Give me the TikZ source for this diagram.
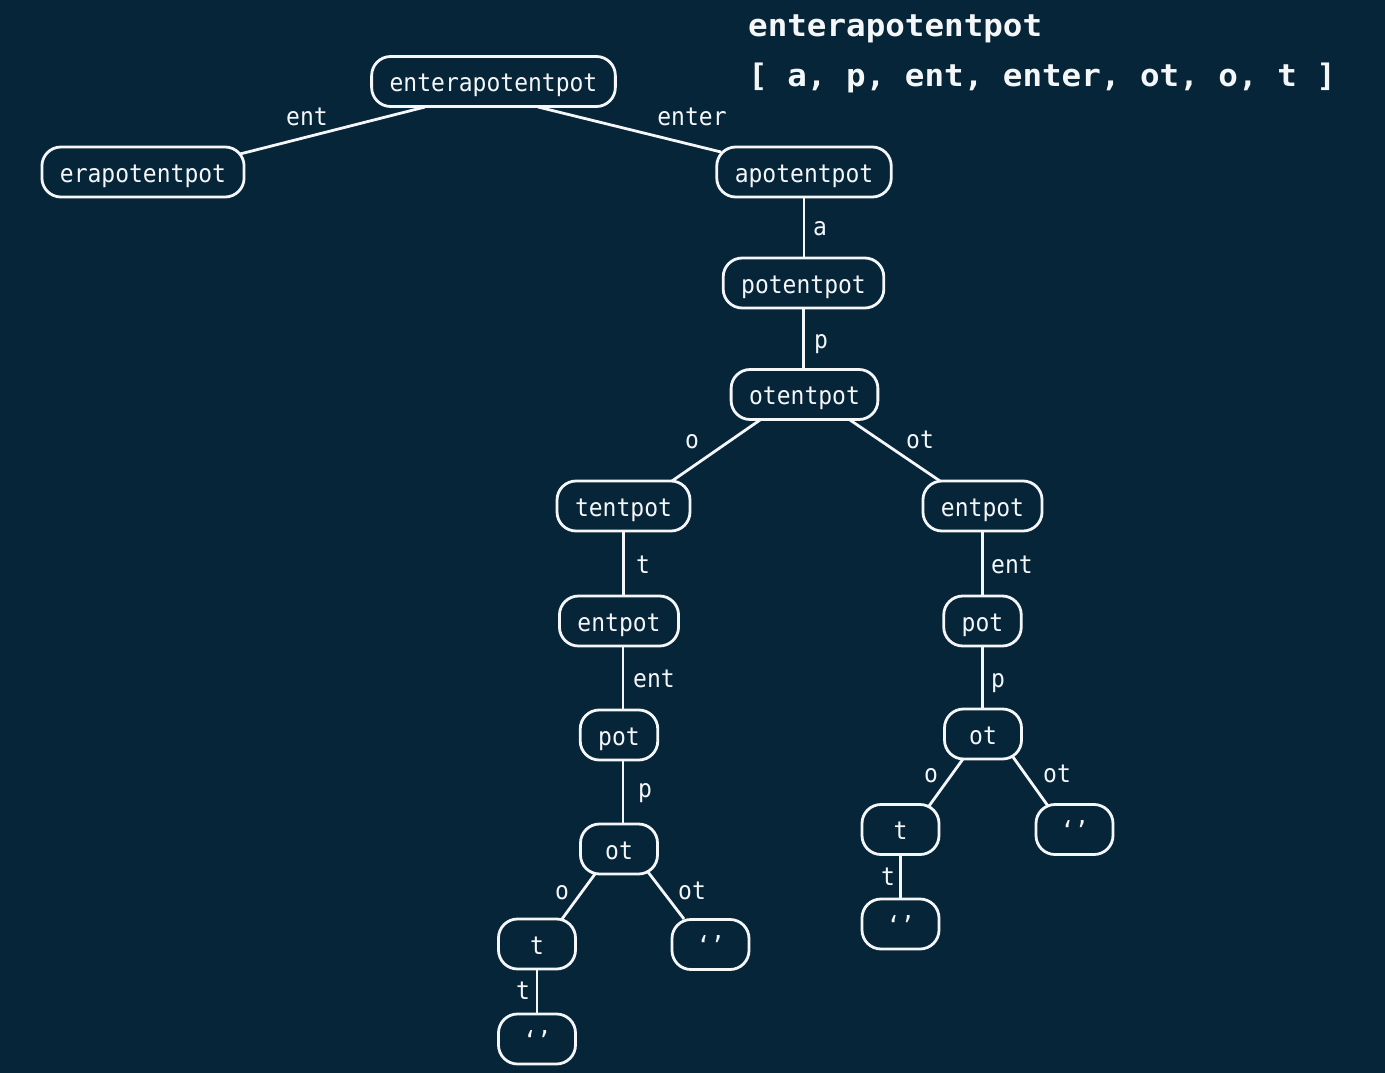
\documentclass[tikz,border=0pt]{standalone}
\usepackage{fontspec}
\newfontfamily\nodefont[FakeStretch=0.92]{DejaVu Sans Mono}
\newfontfamily\titlefont[FakeStretch=1.05]{DejaVu Sans Mono Bold}
\definecolor{bg}{RGB}{6,37,57}
\definecolor{fg}{RGB}{244,246,248}
\tikzset{
  tnode/.style={draw=fg, line width=2.8pt, rounded corners=19pt, text=fg,
    font=\nodefont\fontsize{25pt}{28pt}\selectfont,
    minimum width=77pt, minimum height=50pt, inner xsep=18pt,
    text height=20pt, text depth=0pt},
  edge/.style={draw=fg, line width=2.8pt},
  lbl/.style={text=fg, anchor=base, inner sep=0pt,
    font=\nodefont\fontsize{25pt}{28pt}\selectfont},
  ttl/.style={text=fg, anchor=base west, inner sep=0pt,
    font=\titlefont\fontsize{31pt}{34pt}\selectfont}
}
\begin{document}
\begin{tikzpicture}[x=1pt,y=-1pt]
\fill[bg] (0,0) rectangle (1385,1073);
\useasboundingbox (0,0) rectangle (1385,1073);

\node[ttl] (title1) at (748,37) {enterapotentpot};
\node[ttl] (title2) at (748,86) {[ a, p, ent, enter, ot, o, t ]};

\node[tnode] (root) at (493.5,81.5) {enterapotentpot};
\node[tnode] (era) at (143,172) {erapotentpot};
\node[tnode] (apot) at (804,172) {apotentpot};
\node[tnode] (potp) at (803.5,283) {potentpot};
\node[tnode] (otp) at (804.5,394.5) {otentpot};
\node[tnode] (tentL) at (623.5,506) {tentpot};
\node[tnode] (entR) at (982.5,506) {entpot};
\node[tnode] (entL) at (619,621) {entpot};
\node[tnode] (potR) at (982.5,621) {pot};
\node[tnode] (potL) at (619,735) {pot};
\node[tnode] (otR) at (983,734) {ot};
\node[tnode] (otL) at (619,849) {ot};
\node[tnode] (tR) at (900.5,829.5) {t};
\node[tnode] (eR) at (1074.5,829.5) {‘’};
\node[tnode] (eRt) at (900.5,924) {‘’};
\node[tnode] (tL) at (537,944) {t};
\node[tnode] (eL) at (710.5,944.5) {‘’};
\node[tnode] (eLt) at (537,1039) {‘’};

\draw[edge] ([shift={(-68.5,25.5)}]root.center) -- ([shift={(97,-18)}]era.center);
\draw[edge] ([shift={(44.5,25.5)}]root.center) -- ([shift={(-83,-20)}]apot.center);
\draw[edge] (apot.south) -- (apot.south |- potp.north);
\draw[edge] (potp.south) -- (potp.south |- otp.north);
\draw[edge] ([shift={(-44.5,25.5)}]otp.center) -- ([shift={(48.5,-25)}]tentL.center);
\draw[edge] ([shift={(45.5,25.5)}]otp.center) -- ([shift={(-42.5,-25)}]entR.center);
\draw[edge] (tentL.south) -- (tentL.south |- entL.north);
\draw[edge] ([xshift=4pt]entL.south) -- ([xshift=4pt]potL.north);
\draw[edge] ([xshift=4pt]potL.south) -- ([xshift=4pt]otL.north);
\draw[edge] (entR.south) -- (potR.north);
\draw[edge] (potR.south) -- (potR.south |- otR.north);
\draw[edge] ([shift={(-20,25)}]otR.center) -- ([shift={(28.5,-23.5)}]tR.center);
\draw[edge] ([shift={(30,23)}]otR.center) -- ([shift={(-26.5,-23.5)}]eR.center);
\draw[edge] (tR.south) -- (eRt.north);
\draw[edge] ([shift={(-24,25)}]otL.center) -- ([shift={(25,-25)}]tL.center);
\draw[edge] ([shift={(29,23)}]otL.center) -- ([shift={(-26.5,-25.5)}]eL.center);
\draw[edge] (tL.south) -- (eLt.north);

\node[lbl] (l1) at (307,125) {ent};
\node[lbl] (l2) at (692,125) {enter};
\node[lbl] (l3) at (820,235) {a};
\node[lbl] (l4) at (821,348) {p};
\node[lbl] (l5) at (692,448) {o};
\node[lbl] (l6) at (920,448) {ot};
\node[lbl] (l7) at (643,573) {t};
\node[lbl] (l8) at (1012,573) {ent};
\node[lbl] (l9) at (654,687) {ent};
\node[lbl] (l10) at (998,687) {p};
\node[lbl] (l11) at (645,797) {p};
\node[lbl] (l12) at (931,782) {o};
\node[lbl] (l13) at (1057,782) {ot};
\node[lbl] (l14) at (888,885) {t};
\node[lbl] (l15) at (562,899) {o};
\node[lbl] (l16) at (692,899) {ot};
\node[lbl] (l17) at (523,999) {t};
\end{tikzpicture}
\end{document}
